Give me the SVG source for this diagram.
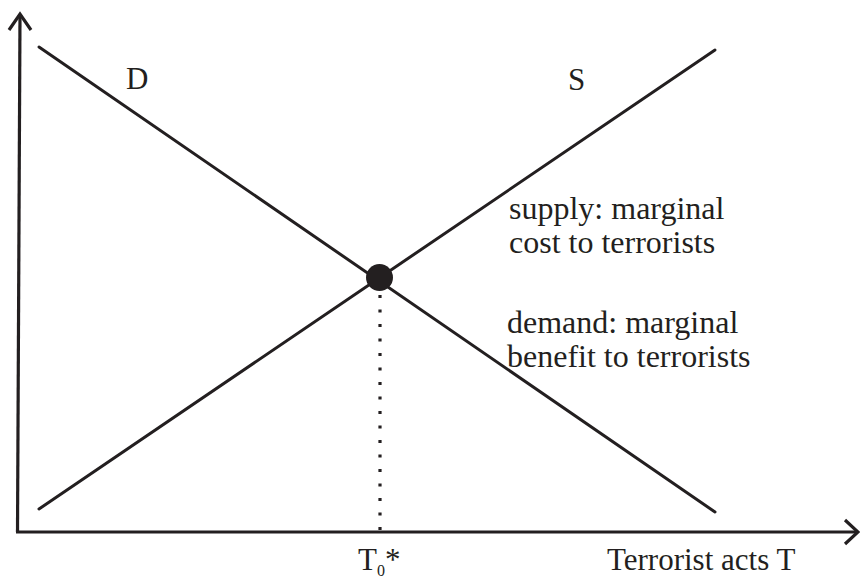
<svg xmlns="http://www.w3.org/2000/svg" width="860" height="580" viewBox="0 0 860 580">
<style>
.ln{stroke:#231f20;stroke-width:3;fill:none;stroke-linecap:round}
.ax{stroke:#231f20;stroke-width:3.2;fill:none}
.t{font-family:"Liberation Serif","Times New Roman",serif;font-size:31px;fill:#231f20}
.lb{font-size:32px}
</style>
<rect width="860" height="580" fill="#fff"/>
<g id="axes">
<path class="ax" d="M17.5,532 L20,14"/>
<path class="ax" d="M9,30 L20,14 L31,30"/>
<path class="ax" d="M16,532 L857,532"/>
<path class="ax" d="M845,520 L858,532 L845,544"/>
</g>
<g id="connectors">
<path id="demand-curve" class="ln" d="M39,47 L715,512"/>
<path id="supply-curve" class="ln" d="M39,509 L715,50"/>
<path id="guide" d="M380,295 L380,532" stroke="#231f20" stroke-width="3.2" stroke-dasharray="3,11.5" fill="none"/>
</g>
<g id="equilibrium"><circle cx="379.5" cy="277.5" r="13.5" fill="#231f20"/></g>
<g id="label-D"><text class="t" x="126" y="89">D</text></g>
<g id="label-S"><text class="t" x="568" y="90">S</text></g>
<g id="supply-label"><text class="t lb" x="509" y="219">supply: marginal</text><text class="t lb" x="509" y="253">cost to terrorists</text></g>
<g id="demand-label"><text class="t lb" x="507" y="333">demand: marginal</text><text class="t lb" x="507" y="367">benefit to terrorists</text></g>
<g id="label-T0"><text class="t" x="358" y="570">T<tspan font-size="16" dy="6">0</tspan><tspan dy="-6">*</tspan></text></g>
<g id="x-label"><text class="t" x="607" y="570">Terrorist acts T</text></g>
</svg>
